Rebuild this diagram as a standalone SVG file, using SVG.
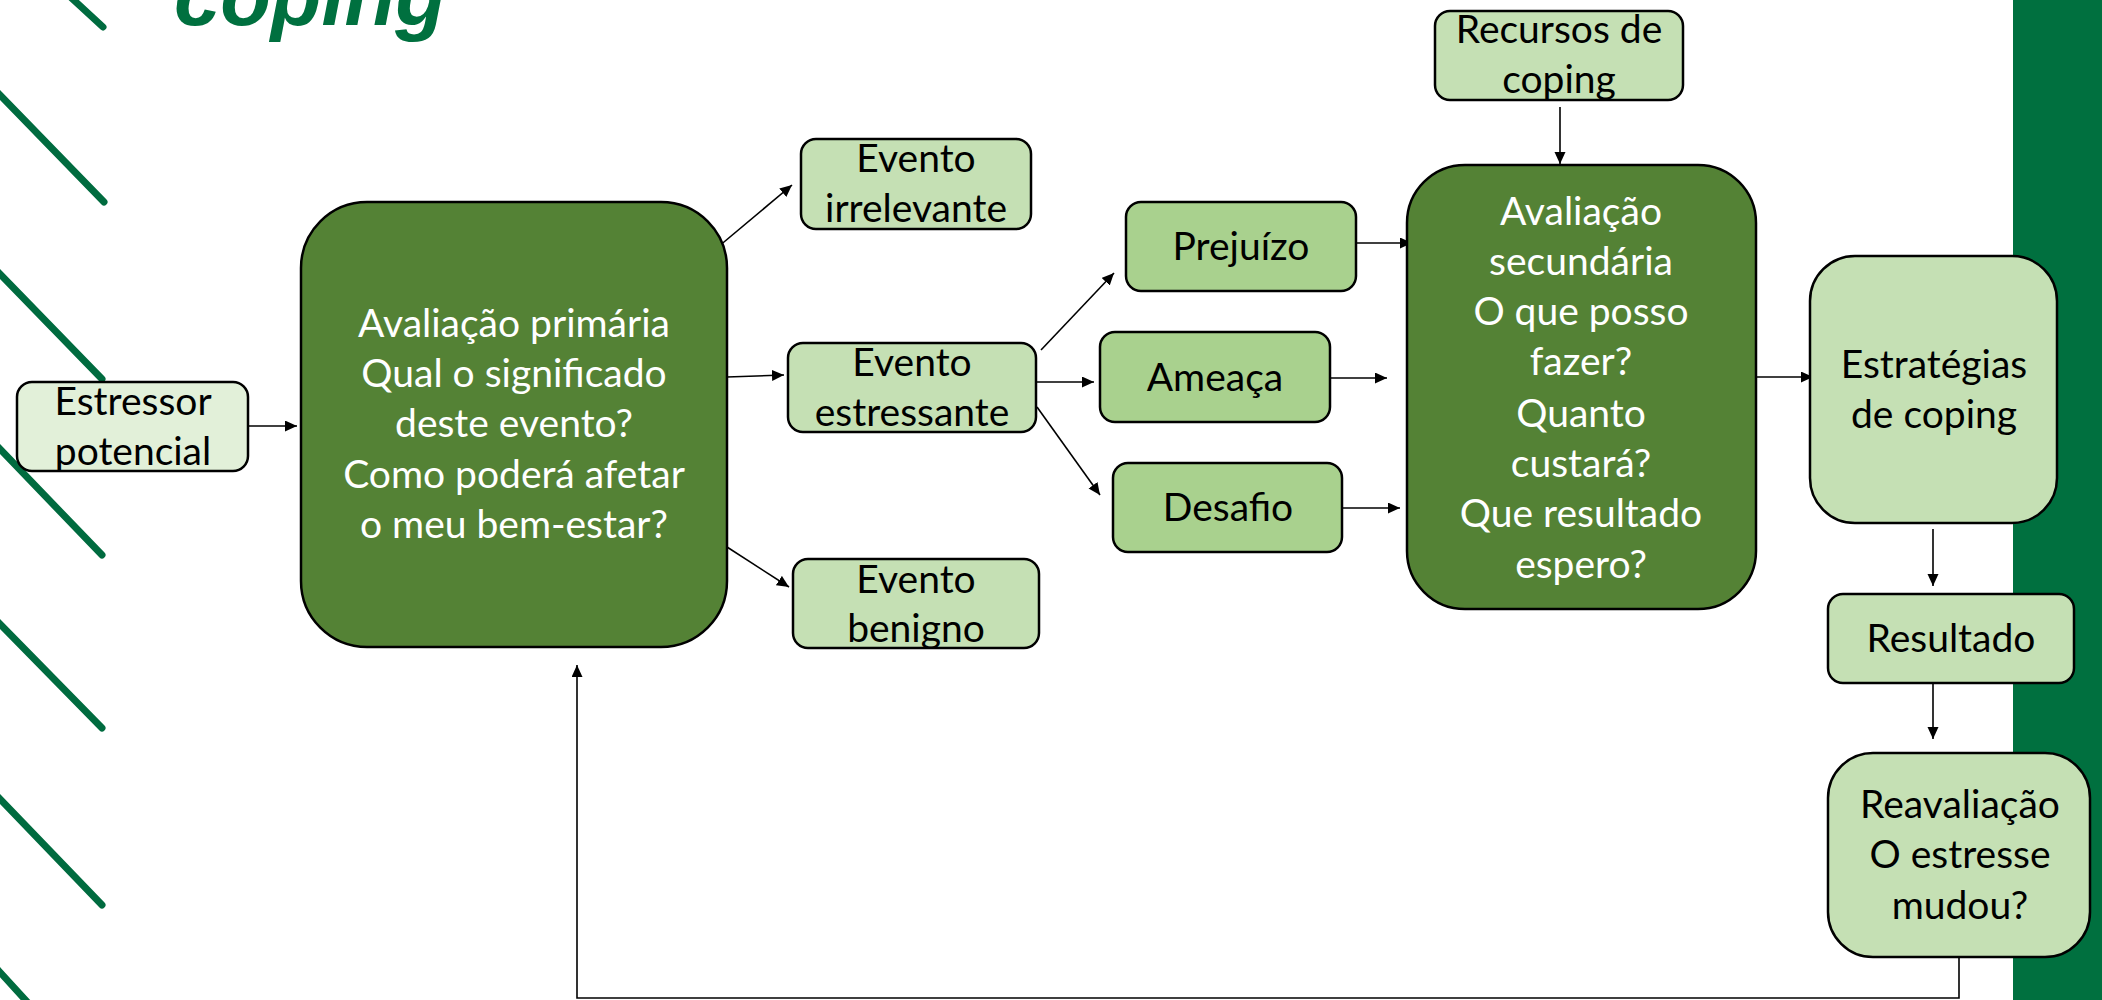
<svg xmlns="http://www.w3.org/2000/svg" width="2102" height="1000" viewBox="0 0 2102 1000">
<defs>
<marker id="ah" markerUnits="userSpaceOnUse" markerWidth="13" markerHeight="12" refX="12" refY="5.5" orient="auto">
<path d="M0,0 L12,5.5 L0,11 z" fill="#000"/>
</marker>
<style>
.deco{stroke:#006B3F;stroke-width:7;stroke-linecap:round;fill:none}
.box{stroke:#000;stroke-width:2.5}
.dark{fill:#548235}
.light{fill:#C5E0B4}
.mid{fill:#A9D18E}
.pale{fill:#E2F0D9}
.t{font-family:Lato,"Liberation Sans",sans-serif;font-size:39px;text-anchor:middle;fill:#000}
.w{fill:#fff}
.con line,.con polyline{stroke:#000;stroke-width:1.6;fill:none}
.con .a{marker-end:url(#ah)}
</style>
</defs>
<rect width="2102" height="1000" fill="#fff"/>
<g id="decor">
<line class="deco" x1="52" y1="-20" x2="103" y2="27"/>
<line class="deco" x1="-2" y1="93" x2="104" y2="202"/>
<line class="deco" x1="-2" y1="272" x2="102" y2="379"/>
<line class="deco" x1="-2" y1="447" x2="102" y2="555"/>
<line class="deco" x1="-2" y1="622" x2="102" y2="728"/>
<line class="deco" x1="-2" y1="797" x2="102" y2="905"/>
<line class="deco" x1="-2" y1="970" x2="30" y2="1005"/>
<rect x="2013" y="0" width="89" height="1000" fill="#00703F"/>
<text x="174" y="25" font-family="'Liberation Sans',Arial,sans-serif" font-size="83" font-weight="bold" font-style="italic" fill="#00703F">coping</text>
</g>
<g id="connectors" class="con">
<line class="a" x1="248" y1="426" x2="297" y2="426"/>
<line class="a" x1="718" y1="247" x2="792" y2="185"/>
<line class="a" x1="727" y1="377" x2="784" y2="375"/>
<line class="a" x1="727" y1="547" x2="789" y2="587"/>
<line class="a" x1="1041" y1="350" x2="1114" y2="273"/>
<line class="a" x1="1036" y1="382" x2="1094" y2="382"/>
<line class="a" x1="1037" y1="407" x2="1100" y2="495"/>
<line class="a" x1="1356" y1="243" x2="1412" y2="243"/>
<line class="a" x1="1330" y1="378" x2="1387" y2="378"/>
<line class="a" x1="1342" y1="508" x2="1400" y2="508"/>
<line class="a" x1="1560" y1="107" x2="1560" y2="164"/>
<line class="a" x1="1756" y1="377" x2="1813" y2="377"/>
<line class="a" x1="1933" y1="529" x2="1933" y2="586"/>
<line class="a" x1="1933" y1="683" x2="1933" y2="739"/>
<polyline class="a" points="1959,957 1959,998 577,998 577,665"/>
</g>
<g id="estressor">
<rect class="box pale" x="17" y="382" width="231" height="89" rx="15"/>
<text class="t" x="133" y="415">Estressor</text>
<text class="t" x="133" y="465">potencial</text>
</g>
<g id="primaria">
<rect class="box dark" x="301" y="202" width="426" height="445" rx="66"/>
<text class="t w" x="514" y="337">Avaliação primária</text>
<text class="t w" x="514" y="387">Qual o significado</text>
<text class="t w" x="514" y="437">deste evento?</text>
<text class="t w" x="514" y="488">Como poderá afetar</text>
<text class="t w" x="514" y="538">o meu bem-estar?</text>
</g>
<g id="irrelevante">
<rect class="box light" x="801" y="139" width="230" height="90" rx="15"/>
<text class="t" x="916" y="172">Evento</text>
<text class="t" x="916" y="222">irrelevante</text>
</g>
<g id="estressante">
<rect class="box light" x="788" y="343" width="248" height="89" rx="15"/>
<text class="t" x="912" y="376">Evento</text>
<text class="t" x="912" y="426">estressante</text>
</g>
<g id="benigno">
<rect class="box light" x="793" y="559" width="246" height="89" rx="15"/>
<text class="t" x="916" y="593">Evento</text>
<text class="t" x="916" y="642">benigno</text>
</g>
<g id="prejuizo">
<rect class="box mid" x="1126" y="202" width="230" height="89" rx="15"/>
<text class="t" x="1241" y="260">Prejuízo</text>
</g>
<g id="ameaca">
<rect class="box mid" x="1100" y="332" width="230" height="90" rx="15"/>
<text class="t" x="1215" y="391">Ameaça</text>
</g>
<g id="desafio">
<rect class="box mid" x="1113" y="463" width="229" height="89" rx="15"/>
<text class="t" x="1228" y="521">Desafio</text>
</g>
<g id="recursos">
<rect class="box light" x="1435" y="11" width="248" height="89" rx="15"/>
<text class="t" x="1559" y="43">Recursos de</text>
<text class="t" x="1559" y="93">coping</text>
</g>
<g id="secundaria">
<rect class="box dark" x="1407" y="165" width="349" height="444" rx="58"/>
<text class="t w" x="1581" y="225">Avaliação</text>
<text class="t w" x="1581" y="275">secundária</text>
<text class="t w" x="1581" y="325">O que posso</text>
<text class="t w" x="1581" y="375">fazer?</text>
<text class="t w" x="1581" y="427">Quanto</text>
<text class="t w" x="1581" y="477">custará?</text>
<text class="t w" x="1581" y="527">Que resultado</text>
<text class="t w" x="1581" y="578">espero?</text>
</g>
<g id="estrategias">
<rect class="box light" x="1810" y="256" width="247" height="267" rx="45"/>
<text class="t" x="1934" y="378">Estratégias</text>
<text class="t" x="1934" y="428">de coping</text>
</g>
<g id="resultado">
<rect class="box light" x="1828" y="594" width="246" height="89" rx="15"/>
<text class="t" x="1951" y="652">Resultado</text>
</g>
<g id="reavaliacao">
<rect class="box light" x="1828" y="753" width="262" height="204" rx="45"/>
<text class="t" x="1960" y="818">Reavaliação</text>
<text class="t" x="1960" y="868">O estresse</text>
<text class="t" x="1960" y="919">mudou?</text>
</g>
</svg>
